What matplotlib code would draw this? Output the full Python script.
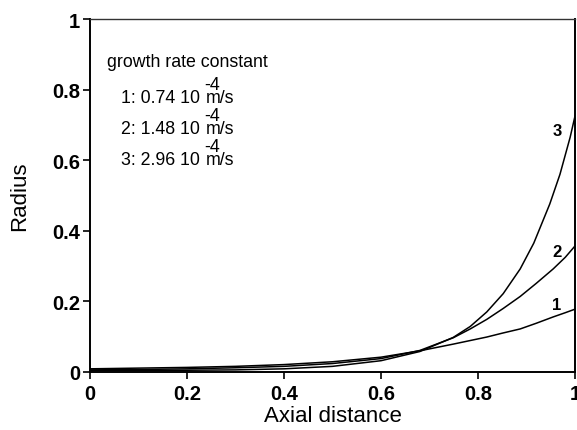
import matplotlib
matplotlib.use("Agg")
import matplotlib.pyplot as plt

plt.rcParams["font.family"] = ["Liberation Sans", "DejaVu Sans"]

# Radius profiles along the axial distance for three growth rate constants
x1 = [0.0, 0.1, 0.2, 0.3, 0.4, 0.5, 0.6, 0.68, 0.749, 0.818, 0.85, 0.887, 0.92, 0.955, 0.98, 1.0]
r1 = [0.009, 0.011, 0.013, 0.016, 0.021, 0.029, 0.042, 0.060, 0.079, 0.099, 0.110, 0.122, 0.138, 0.156, 0.168, 0.178]

x2 = [0.0, 0.1, 0.2, 0.3, 0.4, 0.5, 0.6, 0.68, 0.749, 0.784, 0.818, 0.852, 0.887, 0.92, 0.955, 0.98, 1.0]
r2 = [0.006, 0.007, 0.009, 0.012, 0.016, 0.024, 0.038, 0.061, 0.097, 0.122, 0.149, 0.180, 0.214, 0.251, 0.292, 0.325, 0.357]

x3 = [0.0, 0.1, 0.2, 0.3, 0.4, 0.5, 0.6, 0.68, 0.749, 0.784, 0.818, 0.852, 0.887, 0.915, 0.948, 0.969, 0.99, 1.0]
r3 = [0.004, 0.004, 0.005, 0.006, 0.009, 0.016, 0.032, 0.058, 0.098, 0.129, 0.170, 0.222, 0.292, 0.365, 0.476, 0.560, 0.665, 0.725]

curve_labels = ["1", "2", "3"]
label_pos = [(0.963, 0.19), (0.963, 0.34), (0.963, 0.683)]

rate_values = ["1: 0.74 10", "2: 1.48 10", "3: 2.96 10"]
rate_exp = "-4"
rate_unit = "m/s"

x_ticks = [0, 0.2, 0.4, 0.6, 0.8, 1]
x_ticklabels = ["0", "0.2", "0.4", "0.6", "0.8", "1"]
y_ticks = [0, 0.2, 0.4, 0.6, 0.8, 1]
y_ticklabels = ["0", "0.2", "0.4", "0.6", "0.8", "1"]

fig = plt.figure(figsize=(5.77, 4.31), dpi=100)
ax = fig.add_axes([90 / 577, 58 / 431, 485 / 577, 353 / 431])

for xs, rs in [(x1, r1), (x2, r2), (x3, r3)]:
    ax.plot(xs, rs, color="black", lw=1.1)

for lab, (lx, ly) in zip(curve_labels, label_pos):
    ax.text(lx, ly, lab, fontsize=12, fontweight="bold", ha="center", va="center")

ax.set_xlim(0, 1)
ax.set_ylim(0, 1)
ax.set_xticks(x_ticks)
ax.set_xticklabels(x_ticklabels)
ax.set_yticks(y_ticks)
ax.set_yticklabels(y_ticklabels)
ax.tick_params(direction="out", length=5, width=1.2, labelsize=14.5, pad=2)
ax.tick_params(axis="x", pad=4)
for lbl in ax.get_xticklabels() + ax.get_yticklabels():
    lbl.set_fontweight("bold")
for side in ["left", "bottom", "right"]:
    ax.spines[side].set_linewidth(1.4)
ax.spines["top"].set_linewidth(1.0)
ax.spines["top"].set_color("#333333")

ax.set_xlabel("Axial distance", fontsize=16, labelpad=1)
ax.set_ylabel("Radius", fontsize=16, labelpad=16)

# annotation block, placed in figure pixel coordinates
def px(xp, yp):
    return fig.transFigure.inverted().transform((xp, 431 - yp))

tx, ty = px(107, 63)
fig.text(tx, ty, "growth rate constant", fontsize=12.8, ha="left", va="center")
for i, val in enumerate(rate_values):
    yc = 97 + i * 30.8
    a, b = px(200, yc + 6)
    fig.text(a, b, val, fontsize=12.8, ha="right", va="baseline")
    a, b = px(206, yc + 6)
    fig.text(a, b, rate_unit, fontsize=12.8, ha="left", va="baseline")
    a, b = px(212, yc - 11)
    fig.text(a, b, rate_exp, fontsize=12.8, ha="center", va="center")

fig.savefig("out.png", dpi=100)
